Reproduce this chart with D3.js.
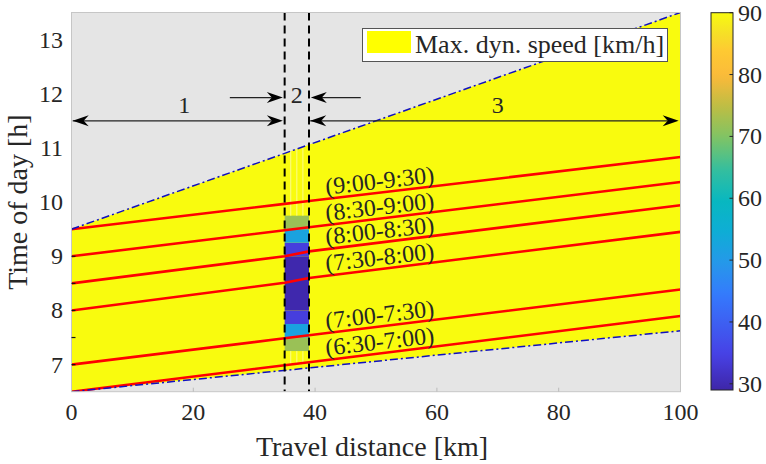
<!DOCTYPE html>
<html>
<head>
<meta charset="utf-8">
<script src="https://cdn.jsdelivr.net/npm/d3@7"></script>
<style>
  html, body { margin: 0; padding: 0; background: #fff; }
  text { font-family: "Liberation Serif", "Times New Roman", serif; fill: #262626; }
</style>
</head>
<body>
<script>
// ---- data ----
const xTicks = [0, 20, 40, 60, 80, 100];
const yTicks = [7, 8, 9, 10, 11, 12, 13];
const yMarks = [7, 7.5, 8, 8.5, 9];
const cTicks = [30, 40, 50, 60, 70, 80, 90];

// feasible region limits (distance km, time h)
const upperBound = [[0, 9.5], [100, 13.5]];
const lowerBound = [[0, 6.5], [100, 7.625]];

// vehicle trajectories: time at each checkpoint distance
const checkpoints = [0, 35, 39, 100];
const trajectories = [
  [6.5, 6.989, 7.044, 7.896],
  [7.0, 7.486, 7.541, 8.388],
  [8.0, 8.51, 8.60, 9.45],
  [8.5, 9.0, 9.09, 9.943],
  [9.0, 9.48, 9.535, 10.372],
  [9.5, 9.967, 10.02, 10.833]
];
const trajectoryLabels = ["(6:30-7:00)", "(7:00-7:30)", "(7:30-8:00)", "(8:00-8:30)", "(8:30-9:00)", "(9:00-9:30)"];

// congestion zone (section 2): speed cells every 15 min
const zoneStart = 35, zoneEnd = 39;
const cellStarts = [7.25, 7.5, 7.75, 8.0, 8.25, 8.5, 8.75, 9.0, 9.25, 9.5];
const cellSpeeds = [72, 52, 34, 29.5, 29.5, 29.5, 29.5, 34, 52, 72];
const cellStep = 0.25;
const gridKm = [36, 37, 38];

// section annotations
const sections = [
  { label: "1", from: 0, to: 35, lx: 18.5, lt: 11.8 },
  { label: "3", from: 39, to: 100, lx: 70, lt: 11.8 }
];
const zoneLabel = { label: "2", lx: 37, lt: 11.97 };
const zonePointers = [[26, 35], [47.5, 39]];
const sectionRowT = 11.5, pointerRowT = 11.93;

const speedRange = [29, 90];

// parula colour map
const parulaStops = [
  [0.00, [62, 38, 168]],
  [0.094, [71, 65, 229]],
  [0.25, [53, 121, 253]],
  [0.33, [39, 150, 235]],
  [0.42, [14, 173, 213]],
  [0.50, [8, 183, 192]],
  [0.58, [50, 190, 160]],
  [0.67, [128, 196, 100]],
  [0.75, [188, 189, 68]],
  [0.83, [250, 186, 58]],
  [0.90, [254, 202, 50]],
  [0.95, [245, 226, 38]],
  [1.00, [249, 251, 14]]
];
const parula = d3.scaleLinear()
  .domain(parulaStops.map(d => d[0]))
  .range(parulaStops.map(d => d3.rgb(...d[1]).toString()))
  .interpolate(d3.interpolateRgb)
  .clamp(true);
const speedColor = v => parula((v - speedRange[0]) / (speedRange[1] - speedRange[0]));

// ---- layout ----
const W = 766, H = 464;
const x = d3.scaleLinear([0, 100], [71.5, 680.5]);
const y = d3.scaleLinear([6.5, 13.5], [391.7, 12.5]);
const cy = d3.scaleLinear(speedRange, [390, 12.7]);

const svg = d3.select("body").append("svg").attr("width", W).attr("height", H);
const defs = svg.append("defs");

const [px0, px1] = x.range();
const [py0, py1] = y.range();

defs.append("clipPath").attr("id", "plotClip")
  .append("rect").attr("x", px0).attr("y", py1).attr("width", px1 - px0).attr("height", py0 - py1);

const regionPts = [...lowerBound, ...upperBound.slice().reverse()];
defs.append("clipPath").attr("id", "regionClip")
  .append("path").attr("d", d3.line().x(d => x(d[0])).y(d => y(d[1]))(regionPts) + "Z");

const plot = svg.append("g").attr("clip-path", "url(#plotClip)");

// background
plot.append("rect").attr("x", px0).attr("y", py1).attr("width", px1 - px0).attr("height", py0 - py1)
  .attr("fill", "#e5e5e5");

// feasible region at free-flow speed
plot.append("path")
  .attr("d", d3.line().x(d => x(d[0])).y(d => y(d[1]))(regionPts) + "Z")
  .attr("fill", speedColor(90));

// congestion cells: consecutive cells of equal speed merged into one block
const cellRuns = [];
cellStarts.forEach((t, i) => {
  const last = cellRuns[cellRuns.length - 1];
  if (last && last.speed === cellSpeeds[i]) last.t1 = t + cellStep;
  else cellRuns.push({ t0: t, t1: t + cellStep, speed: cellSpeeds[i] });
});
plot.append("g").selectAll("rect").data(cellRuns).join("rect")
  .attr("x", x(zoneStart)).attr("width", x(zoneEnd) - x(zoneStart))
  .attr("y", d => y(d.t1)).attr("height", d => y(d.t0) - y(d.t1))
  .attr("fill", d => speedColor(d.speed));

// faint cell grid in the zone
const zoneGrid = plot.append("g").attr("clip-path", "url(#regionClip)");
zoneGrid.selectAll("line.above").data(gridKm).join("line")
  .attr("x1", d => x(d)).attr("x2", d => x(d))
  .attr("y1", y(cellStarts[cellStarts.length - 1] + cellStep)).attr("y2", y(13.5))
  .attr("stroke", "#fbfb8c").attr("stroke-width", 1);
zoneGrid.selectAll("line.below").data(gridKm).join("line")
  .attr("x1", d => x(d)).attr("x2", d => x(d))
  .attr("y1", y(7.0)).attr("y2", y(cellStarts[0]))
  .attr("stroke", "#fbfb8c").attr("stroke-width", 1);

// trajectories
const trajLine = d3.line().x((d, i) => x(checkpoints[i])).y(d => y(d));
plot.append("g").selectAll("path").data(trajectories).join("path")
  .attr("d", trajLine).attr("fill", "none").attr("stroke", "#ff0000").attr("stroke-width", 2.6);

// region limits
const boundLine = d3.line().x(d => x(d[0])).y(d => y(d[1]));
plot.append("g").selectAll("path").data([upperBound, lowerBound]).join("path")
  .attr("d", boundLine).attr("fill", "none").attr("stroke", "#1010c0").attr("stroke-width", 1.5)
  .attr("stroke-dasharray", "8,3,2,3");

// section borders
plot.append("g").selectAll("line").data([zoneStart, zoneEnd]).join("line")
  .attr("x1", d => x(d)).attr("x2", d => x(d)).attr("y1", py1).attr("y2", py0)
  .attr("stroke", "#000").attr("stroke-width", 2).attr("stroke-dasharray", "8,5");

// arrows
const head = "M0,0 L-16,-5.5 L-11,0 L-16,5.5 Z";
const ann = svg.append("g");
function arrow(x1, x2, t, both) {
  const X1 = x(x1), X2 = x(x2), Y = y(t);
  const dir = X2 > X1 ? 1 : -1;
  ann.append("line").attr("x1", X1).attr("x2", X2 - dir * 11).attr("y1", Y).attr("y2", Y)
    .attr("stroke", "#222").attr("stroke-width", 1.2);
  ann.append("path").attr("d", head).attr("fill", "#000")
    .attr("transform", `translate(${X2},${Y}) rotate(${dir > 0 ? 0 : 180})`);
  if (both) {
    ann.append("path").attr("d", head).attr("fill", "#000")
      .attr("transform", `translate(${X1},${Y}) rotate(${dir > 0 ? 180 : 0})`);
  }
}
sections.forEach(s => arrow(s.from + 0.2, s.to - 0.3, sectionRowT, true));
zonePointers.forEach(p => arrow(p[0], p[1] + (p[1] > p[0] ? -0.3 : 0.3), pointerRowT, false));
[...sections, zoneLabel].forEach(s => {
  ann.append("text").attr("x", x(s.lx)).attr("y", y(s.lt) + 8)
    .attr("text-anchor", "middle").attr("font-size", 24).text(s.label);
});

// trajectory labels
const labelKm = 50.6;
const timeAt = (traj, km) => {
  const i = d3.bisectRight(checkpoints, km) - 1;
  const f = (km - checkpoints[i]) / (checkpoints[i + 1] - checkpoints[i]);
  return traj[i] + f * (traj[i + 1] - traj[i]);
};
trajectories.forEach((traj, i) => {
  const lx = x(labelKm), ly = y(timeAt(traj, labelKm)) - 12;
  ann.append("text")
    .attr("transform", `translate(${lx},${ly}) rotate(-6.5)`)
    .attr("y", 8)
    .attr("text-anchor", "middle").attr("font-size", 24).attr("fill", "#000")
    .text(trajectoryLabels[i]);
});

// legend
const leg = svg.append("g");
leg.append("rect").attr("x", 362.5).attr("y", 28.5).attr("width", 305).attr("height", 33)
  .attr("fill", "#fff").attr("stroke", "#555").attr("stroke-width", 1);
leg.append("rect").attr("x", 367).attr("y", 31).attr("width", 44).attr("height", 22).attr("fill", "#ffff00");
leg.append("text").attr("x", 415).attr("y", 52.5).attr("font-size", 26).attr("fill", "#000")
  .text("Max. dyn. speed [km/h]");

// axes frame and ticks
svg.append("rect").attr("x", px0).attr("y", py1).attr("width", px1 - px0).attr("height", py0 - py1)
  .attr("fill", "none").attr("stroke", "#c6c6c6").attr("stroke-width", 1);
svg.append("g").selectAll("line").data(yMarks).join("line")
  .attr("x1", px0).attr("x2", px0 + 4).attr("y1", d => y(d)).attr("y2", d => y(d))
  .attr("stroke", "#111").attr("stroke-width", 1.2);
svg.append("g").selectAll("line").data(xTicks.slice(1, -1)).join("line")
  .attr("x1", d => x(d)).attr("x2", d => x(d)).attr("y1", py0).attr("y2", py0 - 4)
  .attr("stroke", "#bbb").attr("stroke-width", 1);

svg.append("g").selectAll("text").data(xTicks).join("text")
  .attr("x", d => x(d)).attr("y", 420).attr("text-anchor", "middle").attr("font-size", 24)
  .text(d => d);
svg.append("g").selectAll("text").data(yTicks).join("text")
  .attr("x", 63).attr("y", d => y(d) + 8).attr("text-anchor", "end").attr("font-size", 24)
  .text(d => d);

svg.append("text").attr("x", (px0 + px1) / 2 - 4).attr("y", 456).attr("text-anchor", "middle")
  .attr("font-size", 28).text("Travel distance [km]");
svg.append("text").attr("transform", `translate(27,${(py0 + py1) / 2}) rotate(-90)`)
  .attr("text-anchor", "middle").attr("font-size", 28).text("Time of day [h]");

// colorbar
const cbX = 711, cbW = 22;
const grad = defs.append("linearGradient").attr("id", "parulaGrad")
  .attr("x1", 0).attr("y1", 1).attr("x2", 0).attr("y2", 0);
d3.range(0, 1.0001, 0.02).forEach(t => {
  grad.append("stop").attr("offset", t).attr("stop-color", parula(t));
});
svg.append("rect").attr("x", cbX).attr("y", cy(speedRange[1])).attr("width", cbW)
  .attr("height", cy(speedRange[0]) - cy(speedRange[1])).attr("fill", "url(#parulaGrad)")
  .attr("stroke", "#262626").attr("stroke-width", 1);
svg.append("g").selectAll("line").data(cTicks).join("line")
  .attr("x1", cbX + cbW - 3.5).attr("x2", cbX + cbW).attr("y1", d => cy(d)).attr("y2", d => cy(d))
  .attr("stroke", "#262626").attr("stroke-width", 1);
svg.append("g").selectAll("text").data(cTicks).join("text")
  .attr("x", 738).attr("y", d => cy(d) + 8).attr("font-size", 24).text(d => d);
</script>
</body>
</html>
